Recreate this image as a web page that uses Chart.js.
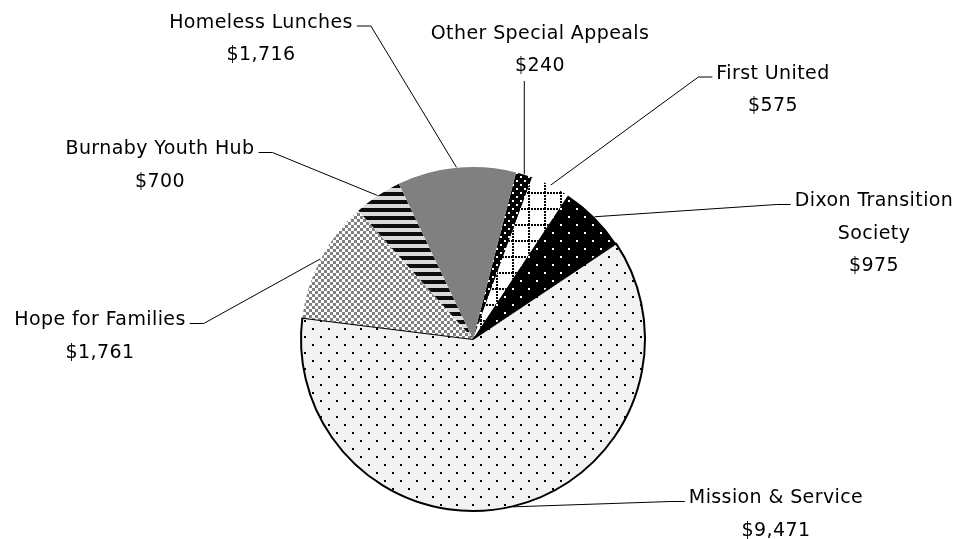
<!DOCTYPE html>
<html>
<head>
<meta charset="utf-8">
<script src="https://cdn.jsdelivr.net/npm/chart.js@4.4.1/dist/chart.umd.min.js"></script>
<style>
  html, body { margin: 0; padding: 0; background: #ffffff; }
  #wrap { width: 965px; height: 539px; }
</style>
</head>
<body>
<div id="wrap"><canvas id="c" width="965" height="539"></canvas></div>
<script>
// ---- data (clockwise from the top) ----
const categories = ['Other Special Appeals', 'First United', 'Dixon Transition Society', 'Mission & Service', 'Hope for Families', 'Burnaby Youth Hub', 'Homeless Lunches'];
const amounts = [240, 575, 975, 9471, 1761, 700, 1716];
const labelLines = [['Other Special Appeals'], ['First United'], ['Dixon Transition', 'Society'], ['Mission & Service'], ['Hope for Families'], ['Burnaby Youth Hub'], ['Homeless Lunches']];

// ---- layout (label placement only) ----
const labelLayout = [
  { cx: 540, y: 38.5, anchor: 'bottom' },
  { cx: 773, y: 78.5, anchor: 'left' },
  { cx: 874, y: 206, anchor: 'left' },
  { cx: 776, y: 503, anchor: 'left' },
  { cx: 100, y: 325, anchor: 'right' },
  { cx: 160, y: 154, anchor: 'right' },
  { cx: 261, y: 27.5, anchor: 'right' }
];
const LINE_H = 32.5;
const FONT = '19px "DejaVu Sans"';

const canvas = document.getElementById('c');
const ctx = canvas.getContext('2d');

function makePattern(w, h, draw) {
  const c = document.createElement('canvas');
  c.width = w; c.height = h;
  const g = c.getContext('2d');
  draw(g, w, h);
  return ctx.createPattern(c, 'repeat');
}
const patOther = makePattern(8, 8, (g) => {
  g.fillStyle = '#000'; g.fillRect(0, 0, 8, 8);
  g.fillStyle = '#fff'; g.fillRect(0, 0, 2, 2); g.fillRect(4, 4, 2, 2);
});
const patFirst = makePattern(16, 16, (g) => {
  g.fillStyle = '#fff'; g.fillRect(0, 0, 16, 16);
  g.fillStyle = '#000';
  for (let p = 0; p < 16; p += 3) { g.fillRect(p, 0, 2, 2); g.fillRect(0, p, 2, 2); }
});
const patDixon = makePattern(16, 16, (g) => {
  g.fillStyle = '#000'; g.fillRect(0, 0, 16, 16);
  g.fillStyle = '#fff'; g.fillRect(0, 0, 2, 2); g.fillRect(8, 8, 2, 2);
});
const patMission = makePattern(16, 16, (g) => {
  g.fillStyle = '#f2f2f2'; g.fillRect(0, 0, 16, 16);
  g.fillStyle = '#000'; g.fillRect(0, 0, 2, 2); g.fillRect(8, 8, 2, 2);
});
const patHope = makePattern(6, 6, (g) => {
  g.fillStyle = '#ffffff'; g.fillRect(0, 0, 6, 6);
  g.fillStyle = '#808080'; g.fillRect(0, 0, 3, 3); g.fillRect(3, 3, 3, 3);
});
const patBurnaby = makePattern(8, 8, (g) => {
  g.fillStyle = '#d9d9d9'; g.fillRect(0, 0, 8, 8);
  g.fillStyle = '#0d0d0d'; g.fillRect(0, 0, 8, 4);
});
const fills = [patOther, patFirst, patDixon, patMission, patHope, patBurnaby, '#808080'];

const fmt = (v) => '$' + v.toLocaleString('en-US');

const labelPlugin = {
  id: 'excelLabels',
  afterDatasetsDraw(chart) {
    const c = chart.ctx;
    const meta = chart.getDatasetMeta(0);
    c.save();
    c.font = FONT;
    try { c.letterSpacing = '0.4px'; } catch (e) {}
    c.fillStyle = '#000';
    c.textAlign = 'center';
    c.textBaseline = 'alphabetic';
    meta.data.forEach((arc, i) => {
      const p = arc.getProps(['x', 'y', 'startAngle', 'endAngle', 'outerRadius'], true);
      const mid = (p.startAngle + p.endAngle) / 2;
      const ex = p.x + Math.cos(mid) * (p.outerRadius + 0.5);
      const ey = p.y + Math.sin(mid) * (p.outerRadius + 0.5);
      const L = labelLayout[i];
      const lines = labelLines[i].concat([fmt(amounts[i])]);
      lines.forEach((t, k) => c.fillText(t, L.cx, L.y + k * LINE_H));
      const w = c.measureText(lines[0]).width;
      c.beginPath();
      c.strokeStyle = '#000';
      c.lineWidth = 1;
      if (L.anchor === 'bottom') {
        c.moveTo(ex, L.y + (lines.length - 1) * LINE_H + 10);
        c.lineTo(ex, ey);
      } else if (L.anchor === 'left') {
        const ax = L.cx - w / 2 - 4;
        const ay = L.y - 1.5;
        c.moveTo(ax, ay);
        c.lineTo(ax - 14, ay);
        c.lineTo(ex, ey);
      } else {
        const ax = L.cx + w / 2 + 4;
        const ay = L.y - 1.5;
        c.moveTo(ax, ay);
        c.lineTo(ax + 14, ay);
        c.lineTo(ex, ey);
      }
      c.stroke();
    });
    c.restore();
  }
};

new Chart(canvas, {
  type: 'pie',
  data: {
    labels: categories,
    datasets: [{
      data: amounts,
      backgroundColor: fills,
      borderColor: ['rgba(0,0,0,0)', 'rgba(0,0,0,0)', 'rgba(0,0,0,0)', '#000', 'rgba(0,0,0,0)', 'rgba(0,0,0,0)', 'rgba(0,0,0,0)'],
      borderWidth: [0, 0, 0, 2, 0, 0, 0],
      hoverOffset: 0
    }]
  },
  options: {
    responsive: false,
    animation: false,
    rotation: 14.5,
    layout: { padding: { left: 300, right: 319, top: 166, bottom: 27 } },
    plugins: {
      legend: { display: false },
      tooltip: { enabled: false },
      title: { display: false }
    },
    events: []
  },
  plugins: [labelPlugin]
});
</script>
</body>
</html>
